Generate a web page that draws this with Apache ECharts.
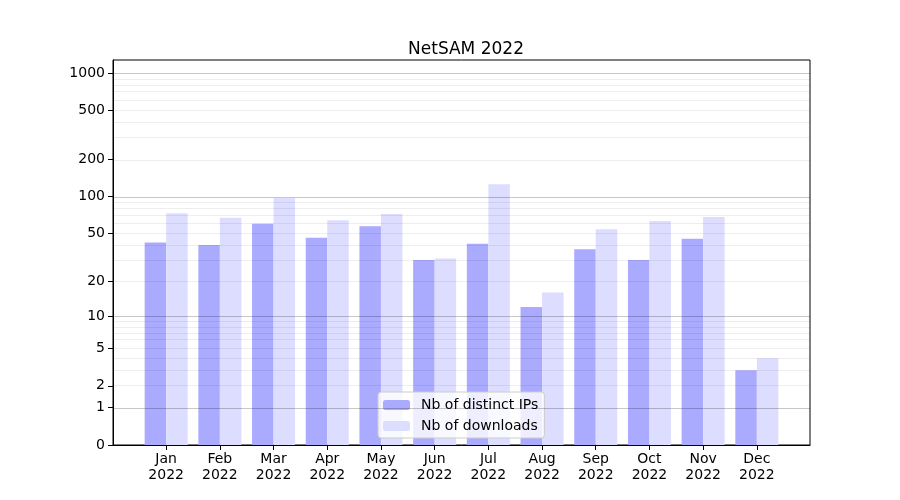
<!DOCTYPE html>
<html><head><meta charset="utf-8">
<script src="https://cdn.jsdelivr.net/npm/echarts@6/dist/echarts.min.js"></script>
<style>html,body{margin:0;padding:0;background:#fff}#c{width:900px;height:500px}</style>
</head><body><div id="c"></div>
<script>
const months = ['Jan','Feb','Mar','Apr','May','Jun','Jul','Aug','Sep','Oct','Nov','Dec'];
const yearLabel = '2022';
const distinctIPs = [42, 40, 60, 46, 57, 30, 41, 12, 37, 30, 45, 3];
const downloads   = [73, 67, 97, 64, 72, 31, 126, 16, 54, 63, 68, 4];
const yTicks = [0, 1, 2, 5, 10, 20, 50, 100, 200, 500, 1000];
const majorGrid = [1, 10, 100, 1000];
const minorGrid = [2,3,4,5,6,7,8,9,20,30,40,50,60,70,80,90,200,300,400,500,600,700,800,900];
const yMaxRaw = 1273;

const tf = v => Math.log10(1 + v);
const inv = t => Math.round(Math.pow(10, t) - 1);
const font = 'DejaVu Sans';

const chart = echarts.init(document.getElementById('c'), null, {renderer: 'canvas'});
const gridLines = [];
majorGrid.forEach(v => gridLines.push({yAxis: tf(v), lineStyle: {color: 'rgba(0,0,0,0.22)', width: 1, type: 'solid'}}));
minorGrid.forEach(v => gridLines.push({yAxis: tf(v), lineStyle: {color: 'rgba(0,0,0,0.065)', width: 1, type: 'solid'}}));

chart.setOption({
  animation: false,
  backgroundColor: '#fff',
  title: {
    text: 'NetSAM 2022', left: 461, top: 36, textAlign: 'center',
    textStyle: {fontFamily: font, fontSize: 17, fontWeight: 'normal', color: '#000'}
  },
  grid: {left: 113, right: 90, top: 60, bottom: 55, show: true, borderColor: '#000', borderWidth: 1, backgroundColor: 'transparent'},
  legend: {
    orient: 'vertical', left: 378, top: 392,
    padding: [5, 6, 4, 5],
    itemWidth: 27, itemHeight: 10, itemGap: 5,
    backgroundColor: 'rgba(255,255,255,0.8)', borderColor: '#cccccc', borderWidth: 1, borderRadius: 3,
    textStyle: {fontFamily: font, fontSize: 14, color: '#000', padding: [1, 0, 0, 6], lineHeight: 15},
    data: ['Nb of distinct IPs', 'Nb of downloads']
  },
  xAxis: {
    type: 'value', min: -0.99, max: 11.99,
    axisLine: {show: true, onZero: false, lineStyle: {color: '#000', width: 1}},
    splitLine: {show: false},
    axisTick: {show: true, length: 5, lineStyle: {color: '#000'}, customValues: months.map((m, i) => i)},
    axisLabel: {
      customValues: months.map((m, i) => i),
      formatter: v => months[Math.round(v)] + '\n' + yearLabel,
      fontFamily: font, fontSize: 14, color: '#000', lineHeight: 16, margin: 6, align: 'center'
    }
  },
  yAxis: {
    type: 'value', min: 0, max: tf(yMaxRaw),
    axisLine: {show: true, onZero: false, lineStyle: {color: '#000', width: 1}},
    splitLine: {show: false},
    axisTick: {show: true, length: 5, lineStyle: {color: '#000'}, customValues: yTicks.map(tf)},
    axisLabel: {
      customValues: yTicks.map(tf),
      formatter: v => String(inv(v)),
      fontFamily: font, fontSize: 14, color: '#000', margin: 8
    }
  },
  series: [
    {
      name: 'Nb of distinct IPs', type: 'bar', barWidth: 21.5, barGap: '0%',
      itemStyle: {color: '#aaaaff'},
      data: distinctIPs.map((v, i) => [i, tf(v)])
    },
    {
      name: 'Nb of downloads', type: 'bar', barWidth: 21.5, barGap: '0%',
      itemStyle: {color: '#ddddff'},
      data: downloads.map((v, i) => [i, tf(v)])
    },
    {
      name: 'grid', type: 'line', data: [], z: 5, silent: true,
      markLine: {silent: true, symbol: ['none', 'none'], label: {show: false}, data: gridLines, animation: false}
    }
  ]
});
</script></body></html>
